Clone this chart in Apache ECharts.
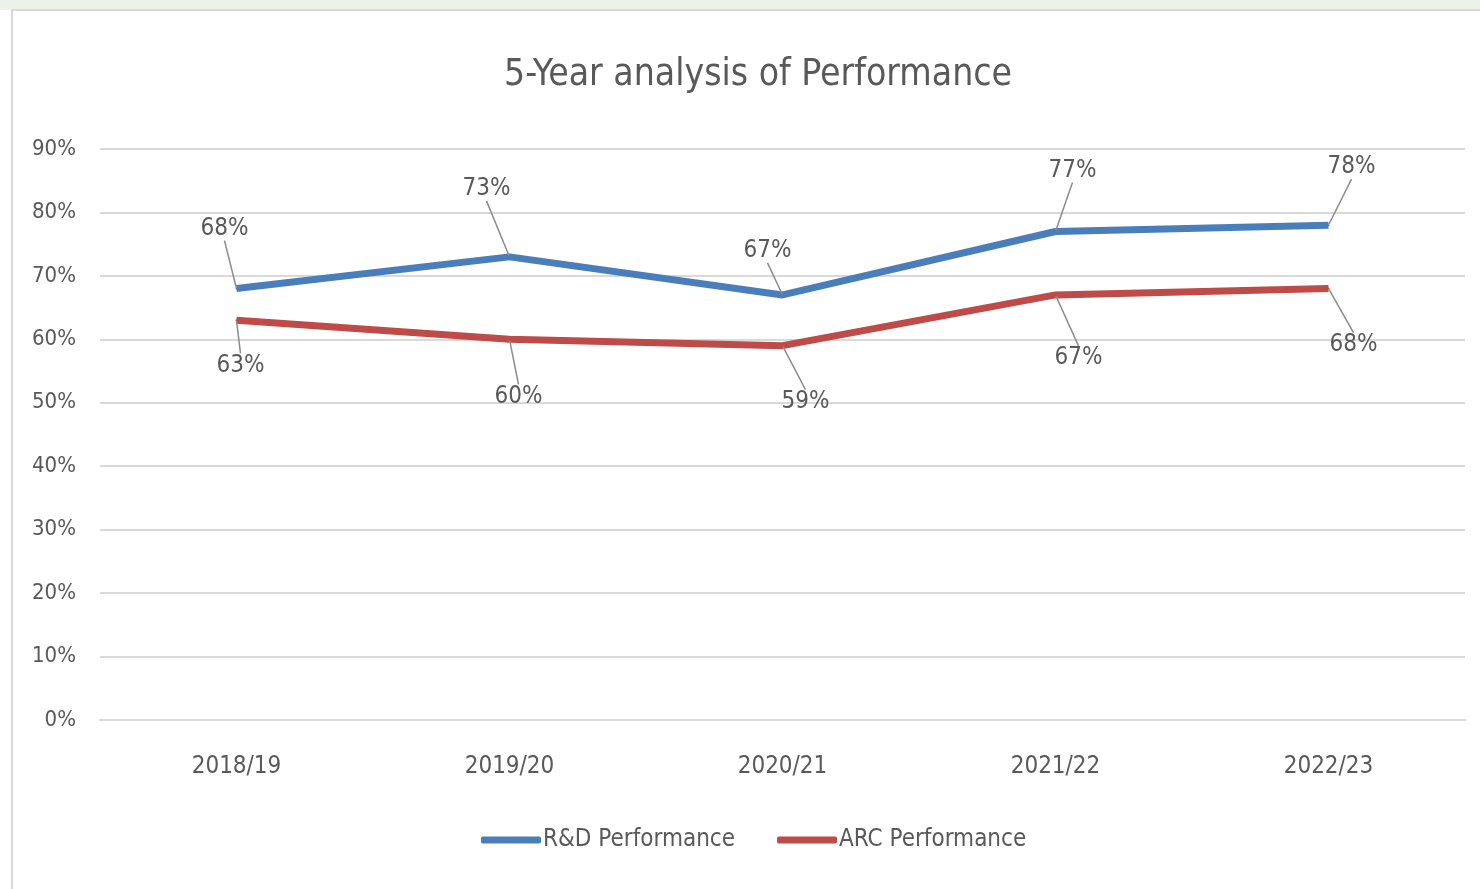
<!DOCTYPE html>
<html>
<head>
<meta charset="utf-8">
<script src="https://cdn.jsdelivr.net/npm/echarts@6/dist/echarts.min.js"></script>
<style>
html,body{margin:0;padding:0;background:#ffffff;}
#chart{width:1480px;height:889px;}
</style>
</head>
<body>
<div id="chart"></div>
<script>
const categories = ['2018/19', '2019/20', '2020/21', '2021/22', '2022/23'];
const rdValues = [68, 73, 67, 77, 78];
const arcValues = [63, 60, 59, 67, 68];
const seriesNames = ['R&D Performance', 'ARC Performance'];
const yTicks = [0, 10, 20, 30, 40, 50, 60, 70, 80, 90];

// label offsets (layout only)
const rdOffsets = [[-12, -60], [-23, -68], [-15, -44], [17, -61], [23, -58]];
const arcOffsets = [[4, 45], [9, 57], [23, 56], [23, 63], [25, 56]];

const FONT = '"DejaVu Sans Condensed", "Open Sans", sans-serif';
const chart = echarts.init(document.getElementById('chart'), null, {renderer: 'canvas'});

function makeSeries(name, values, color, offsets) {
  return {
    name: name,
    type: 'line',
    data: values,
    symbol: 'circle',
    symbolSize: 2,
    showSymbol: true,
    lineStyle: {color: color, width: 7},
    itemStyle: {color: color},
    z: 3,
    label: {
      show: true,
      position: 'inside',
      formatter: p => p.value + '%',
      fontFamily: FONT,
      fontSize: 24,
      color: '#595959'
    },
    labelLayout: function (params) {
      const o = offsets[params.dataIndex];
      return {dx: o[0], dy: o[1]};
    },
    labelLine: {
      show: true,
      smooth: false,
      lineStyle: {color: '#8c8c8c', width: 1.5}
    }
  };
}

chart.setOption({
  animation: false,
  backgroundColor: '#ffffff',
  graphic: [
    {type: 'rect', shape: {x: 0, y: 0, width: 1480, height: 10}, style: {fill: '#eef0ea'}, silent: true, z: -10},
    {type: 'rect', shape: {x: 12, y: 10, width: 1480, height: 900}, style: {fill: '#ffffff', stroke: '#d9d9d9', lineWidth: 2}, silent: true, z: -9}
  ],
  title: {
    text: '5-Year analysis of Performance',
    left: 753,
    textAlign: 'center',
    top: 52,
    textStyle: {fontFamily: FONT, fontSize: 37, fontWeight: 'normal', color: '#595959'}
  },
  legend: {
    bottom: 32,
    left: 476,
    icon: 'roundRect',
    itemWidth: 60,
    itemHeight: 7,
    itemGap: 42,
    data: seriesNames,
    textStyle: {fontFamily: FONT, fontSize: 24, color: '#595959', padding: [0, 0, 0, -3]}
  },
  grid: {left: 100, right: 15, top: 149, bottom: 169, containLabel: false},
  xAxis: {
    type: 'category',
    data: categories,
    boundaryGap: true,
    axisLine: {show: true, lineStyle: {color: '#d9d9d9', width: 2}},
    axisTick: {show: false},
    axisLabel: {fontFamily: FONT, fontSize: 24, color: '#595959', margin: 35}
  },
  yAxis: {
    type: 'value',
    min: yTicks[0],
    max: yTicks[yTicks.length - 1],
    interval: 10,
    axisLine: {show: false},
    axisTick: {show: false},
    splitLine: {lineStyle: {color: '#d9d9d9', width: 2}},
    axisLabel: {fontFamily: FONT, fontSize: 22, color: '#595959', margin: 24, formatter: v => v + '%'}
  },
  series: [
    makeSeries(seriesNames[0], rdValues, '#4a7ebb', rdOffsets),
    makeSeries(seriesNames[1], arcValues, '#be4b48', arcOffsets)
  ]
});
</script>
</body>
</html>
